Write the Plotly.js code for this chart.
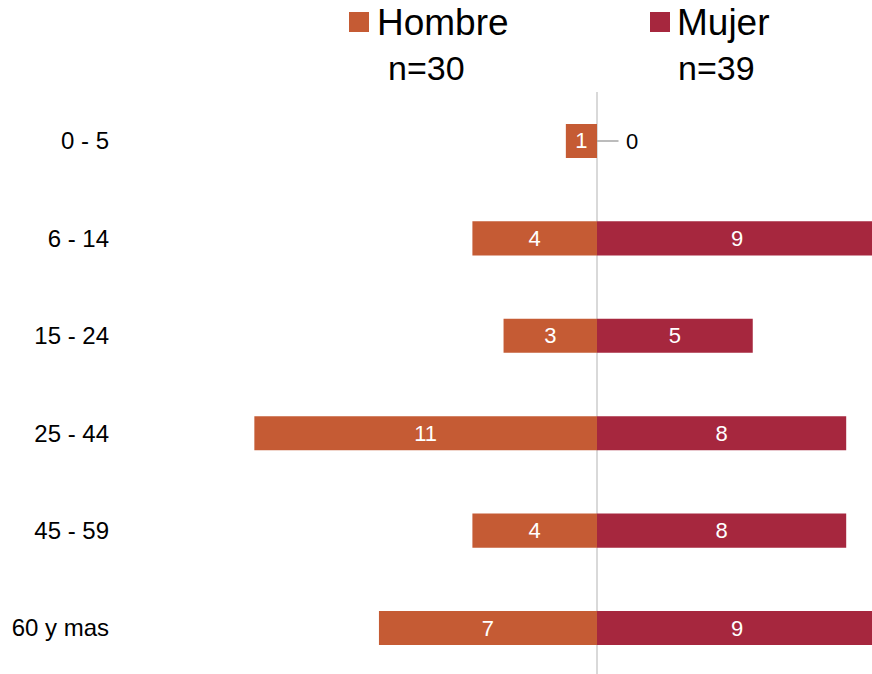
<!DOCTYPE html>
<html>
<head>
<meta charset="utf-8">
<script src="https://cdn.plot.ly/plotly-3.0.1.min.js"></script>
<style>html,body{margin:0;padding:0;background:#fff;}#chart{width:872px;height:674px;}</style>
</head>
<body>
<div id="chart"></div>
<script>
const categories = ["0 - 5", "6 - 14", "15 - 24", "25 - 44", "45 - 59", "60 y mas"];
const hombre = [1, 4, 3, 11, 4, 7];
const mujer = [0, 9, 5, 8, 8, 9];
const seriesNames = ["Hombre", "Mujer"];
const sampleSizes = ["n=30", "n=39"];

const cHombre = "#C55B34";
const cMujer = "#A6273E";
const font = "Liberation Sans, Arial, sans-serif";

const traces = [
  {
    type: "bar", orientation: "h", name: seriesNames[0],
    y: categories, x: hombre.map(v => -v),
    text: hombre.map(v => String(v)),
    textposition: "inside", insidetextanchor: "middle", constraintext: "none",
    textfont: {color: "#ffffff", size: 22, family: font},
    marker: {color: cHombre}, width: 0.35, hoverinfo: "skip"
  },
  {
    type: "bar", orientation: "h", name: seriesNames[1],
    y: categories, x: mujer,
    text: mujer.map(v => v === 0 ? "" : String(v)),
    textposition: "inside", insidetextanchor: "middle", constraintext: "none",
    textfont: {color: "#ffffff", size: 22, family: font},
    marker: {color: cMujer}, width: 0.35, hoverinfo: "skip"
  }
];

const W = 872, H = 674, L = 120, T = 92;
const pw = W - L, ph = H - T;
const px = x => (x - L) / pw;
const py = y => (H - y) / ph;

const annotations = [
  {xref: "paper", yref: "paper", x: px(375), y: py(23), xanchor: "left", yanchor: "middle",
   text: seriesNames[0], showarrow: false, font: {size: 37, color: "#000", family: font}},
  {xref: "paper", yref: "paper", x: px(426), y: py(68), xanchor: "center", yanchor: "middle",
   text: sampleSizes[0], showarrow: false, font: {size: 34, color: "#000", family: font}},
  {xref: "paper", yref: "paper", x: px(675), y: py(23), xanchor: "left", yanchor: "middle",
   text: seriesNames[1], showarrow: false, font: {size: 37, color: "#000", family: font}},
  {xref: "paper", yref: "paper", x: px(716.5), y: py(68), xanchor: "center", yanchor: "middle",
   text: sampleSizes[1], showarrow: false, font: {size: 34, color: "#000", family: font}}
];
mujer.forEach((v, i) => {
  if (v === 0) {
    annotations.push({x: 0, y: categories[i], xref: "x", yref: "y", text: String(v),
      showarrow: true, arrowhead: 0, ax: 35, ay: 0, arrowcolor: "#A6A6A6", arrowwidth: 1.5,
      startstandoff: 6, font: {size: 22, color: "#000", family: font}});
  }
});

const layout = {
  width: W, height: H,
  margin: {l: L, r: 0, t: T, b: 0, pad: 0},
  paper_bgcolor: "#fff", plot_bgcolor: "#fff",
  barmode: "relative", showlegend: false,
  font: {family: font, color: "#000"},
  xaxis: {range: [-477 / 31.15, 275 / 31.15], showgrid: false, showticklabels: false, ticks: "",
          zeroline: true, zerolinecolor: "#D9D9D9", zerolinewidth: 2, showline: false, fixedrange: true},
  yaxis: {type: "category", categoryorder: "array", categoryarray: categories,
          range: [5.472, -0.503], showgrid: false, zeroline: false, showline: false, ticks: "",
          ticklabelstandoff: 10, tickfont: {size: 24, color: "#000", family: font}},
  annotations: annotations,
  shapes: [
    {type: "rect", xref: "paper", yref: "paper", x0: px(349), x1: px(369), y0: py(32), y1: py(12),
     fillcolor: cHombre, line: {width: 0}},
    {type: "rect", xref: "paper", yref: "paper", x0: px(650), x1: px(670), y0: py(32), y1: py(12),
     fillcolor: cMujer, line: {width: 0}}
  ]
};

Plotly.newPlot("chart", traces, layout, {staticPlot: true, displayModeBar: false});
</script>
</body>
</html>
